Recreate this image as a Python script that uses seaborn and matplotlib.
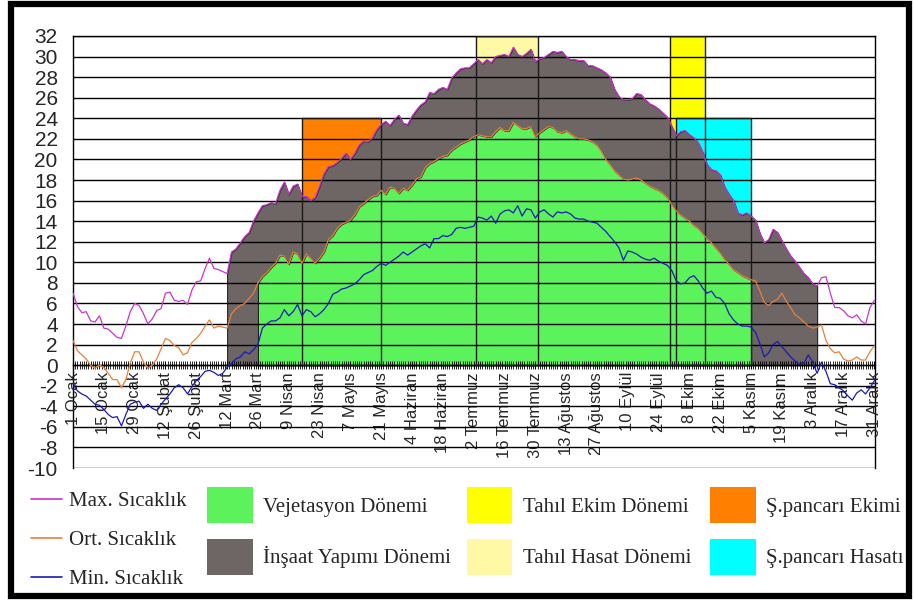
import matplotlib
matplotlib.use("Agg")
import matplotlib.pyplot as plt
from matplotlib.lines import Line2D
from matplotlib.patches import Patch, Rectangle
import seaborn as sns
import pandas as pd

# gün numarası (her iki günde bir okunan değerler)
days = list(range(1, 366, 2))

max_temp = [
    7.0, 5.7, 5.1, 5.2, 4.3, 4.2, 4.8, 3.6, 3.5, 3.1,
    2.7, 2.6, 3.8, 5.2, 6.0, 5.8, 5.0, 4.0, 4.5, 5.3,
    5.5, 7.0, 7.1, 6.3, 6.2, 6.3, 5.9, 7.3, 8.1, 8.2,
    9.4, 10.4, 9.4, 9.3, 9.1, 8.9,
    11.0, 11.3, 11.9, 12.5, 12.9, 14.0, 14.8, 15.5, 15.6, 15.8,
    15.7, 17.0, 17.8, 16.6, 17.4, 17.6, 16.4, 16.4, 16.0, 16.3,
    17.4, 18.6, 19.3, 19.4, 19.7, 20.1, 20.6, 20.0, 20.6, 21.4,
    21.8, 21.7, 22.1, 22.9, 23.4, 23.7, 23.3, 23.9, 24.3, 23.5,
    23.4, 24.2, 24.8, 25.3,
    25.6, 26.5, 26.4, 26.8, 27.0, 26.8, 27.9, 28.4, 28.8, 28.9,
    28.9, 29.3, 29.7, 29.3, 29.7, 29.4, 30.0, 30.1, 30.2, 30.0,
    30.9, 30.2, 30.0, 30.3, 30.7, 29.5, 29.8, 29.9, 30.2, 30.5,
    30.4, 30.5, 30.0, 29.7, 29.7, 29.6, 29.6, 29.1, 29.1, 28.9,
    28.7, 28.4,
    28.0, 26.8, 26.1, 25.8, 25.8, 25.9, 26.4, 26.3, 25.8, 25.4,
    25.2, 24.9, 24.5, 24.1, 23.2, 22.3, 22.7, 22.8, 22.4, 22.1,
    21.6, 20.7, 19.5, 19.0, 18.9, 18.5, 17.3, 16.6, 16.0, 14.8,
    14.6, 14.8, 14.5, 14.1, 12.8, 11.9, 12.2, 13.2, 12.9, 12.1,
    11.3, 10.6, 10.1, 9.5, 8.9, 8.5, 7.9, 7.7, 8.5, 8.6,
    7.0, 5.6, 5.6, 5.3, 4.8, 4.6, 4.9, 4.3, 4.0, 5.6,
    6.3,
]

ort_temp = [
    2.4, 1.4, 1.0, 0.6, 0.0, -0.3, 0.0, -0.2, -0.8, -1.4,
    -1.4, -2.2, -1.4, 0.2, 1.3, 1.3, 0.3, -0.3, 0.0, 0.6,
    1.6, 2.6, 2.4, 1.9, 1.7, 1.0, 1.2, 2.2, 2.6, 3.1,
    3.8, 4.4, 3.6, 3.8, 3.7, 3.6,
    5.0, 5.5, 5.8, 6.0, 6.5, 7.0, 8.0, 8.6, 9.0, 9.5,
    9.9, 10.7, 10.6, 9.8, 11.0, 10.8, 9.9, 10.8, 10.4, 9.9,
    10.4, 11.0, 12.2, 12.6, 13.3, 13.7, 13.9, 14.1, 14.6, 15.4,
    15.7, 16.1, 16.4, 16.5, 17.0, 16.6, 17.3, 17.2, 16.7, 17.2,
    17.0, 17.5, 18.1, 18.3,
    19.2, 19.6, 19.8, 20.1, 20.3, 20.4, 20.9, 21.2, 21.5, 21.7,
    21.9, 22.2, 22.4, 22.3, 22.2, 22.2, 22.7, 23.1, 22.8, 22.8,
    23.6, 23.3, 23.0, 23.0, 23.2, 22.2, 22.6, 22.9, 23.2, 23.1,
    22.7, 22.6, 22.8, 22.5, 22.2, 22.0, 22.0, 21.9, 21.7, 21.4,
    20.8, 20.0,
    19.5, 18.9, 18.5, 18.1, 18.0, 18.1, 18.2, 18.0, 17.7, 17.4,
    17.2, 17.0, 16.7, 16.3, 15.6, 15.0, 14.6, 14.3, 14.0, 13.6,
    13.3, 12.8, 12.3, 11.9, 11.4, 10.9, 10.3, 9.8, 9.3, 9.0,
    8.7, 8.5, 8.3, 8.2, 7.2, 6.1, 5.8, 6.2, 6.4, 7.0,
    6.2, 5.6, 4.9, 4.6, 4.2, 3.8, 3.6, 3.7, 3.9, 2.4,
    1.6, 1.2, 1.3, 0.6, 0.4, 0.5, 0.8, 0.5, 0.5, 1.3,
    1.9,
]

min_temp = [
    -1.8, -2.5, -2.8, -3.0, -3.4, -3.8, -3.9, -4.3, -4.8, -5.1,
    -5.0, -5.9, -4.8, -3.8, -3.6, -3.5, -4.2, -3.8, -4.2, -4.4,
    -3.8, -3.3, -2.8, -2.2, -1.9, -2.2, -2.8, -2.1, -1.5, -1.1,
    -0.6, -0.5, -0.7, -1.0, -0.8, -0.2,
    0.2, 0.6, 0.8, 1.3, 1.1, 1.5, 2.0, 3.6, 4.0, 4.3,
    4.3, 4.6, 5.4, 4.8, 5.2, 5.9, 4.8, 5.4, 5.2, 4.7,
    5.0, 5.4, 6.0, 6.9, 7.1, 7.4, 7.5, 7.7, 7.9, 8.3,
    8.8, 9.0, 9.2, 9.6, 9.9, 9.7, 10.0, 10.3, 10.6, 11.0,
    10.7, 11.0, 11.3, 11.6,
    11.8, 11.4, 12.3, 12.3, 12.6, 12.5, 12.7, 13.3, 13.4, 13.3,
    13.4, 13.5, 14.4, 14.3, 14.1, 14.5, 13.8, 14.7, 15.0, 15.1,
    14.8, 15.5, 14.5, 15.2, 15.1, 14.3, 14.9, 15.1, 14.7, 14.4,
    14.9, 14.8, 14.9, 14.7, 14.3, 14.2, 14.2, 14.0, 13.9, 13.8,
    13.4, 13.0,
    12.5, 12.0, 11.4, 10.2, 11.1, 11.0, 10.8, 10.5, 10.3, 10.2,
    10.4, 10.1, 9.9, 9.7, 9.2, 8.2, 7.9, 8.0, 8.5, 8.7,
    8.2, 7.5, 7.0, 7.2, 6.6, 6.5, 6.0, 5.0, 4.4, 4.0,
    3.8, 3.8, 3.7, 3.2, 2.1, 0.8, 1.2, 2.0, 2.3, 1.8,
    1.3, 0.8, 0.4, 0.1, 0.2, 1.0, 0.3, -0.8, 0.3, -0.6,
    -1.8, -1.9, -2.2, -2.5, -3.0, -3.4, -2.7, -2.4, -2.8, -2.2,
    -1.5,
]

tick_days = [1, 15, 29, 43, 57, 71, 85, 99, 113, 127, 141, 155, 169, 183,
             197, 211, 225, 239, 253, 267, 281, 295, 309, 323, 337, 351, 365]
tick_labels = ["1 Ocak", "15 Ocak", "29 Ocak", "12 Şubat", "26 Şubat",
               "12 Mart", "26 Mart", "9 Nisan", "23 Nisan", "7 Mayıs",
               "21 Mayıs", "4 Haziran", "18 Haziran", "2 Temmuz", "16 Temmuz",
               "30 Temmuz", "13 Ağustos", "27 Ağustos", "10 Eylül", "24 Eylül",
               "8 Ekim", "22 Ekim", "5 Kasım", "19 Kasım", "3 Aralık",
               "17 Aralık", "31 Aralık"]

series_names = ["Max. Sıcaklık", "Ort. Sıcaklık", "Min. Sıcaklık"]
series_colors = ["#CC33CC", "#E8803A", "#1A1AB8"]

# dönemler: ad, başlangıç günü, bitiş günü, üst sınır
veg_period = ("Vejetasyon Dönemi", 85, 309)
insaat_period = ("İnşaat Yapımı Dönemi", 71, 339)
box_names = ["Ş.pancarı Ekimi", "Tahıl Hasat Dönemi", "Tahıl Ekim Dönemi", "Ş.pancarı Hasatı"]
box_start = [105, 184, 272, 275]
box_end = [141, 212, 288, 309]
box_top = [24, 32, 32, 24]

colors = {
    "Vejetasyon Dönemi": "#5BF25B",
    "İnşaat Yapımı Dönemi": "#6D6665",
    "Tahıl Ekim Dönemi": "#FFFF00",
    "Tahıl Hasat Dönemi": "#FFF9A6",
    "Ş.pancarı Ekimi": "#FF7F00",
    "Ş.pancarı Hasatı": "#00FFFF",
}

df = pd.DataFrame({"gun": days, series_names[0]: max_temp,
                   series_names[1]: ort_temp, series_names[2]: min_temp})

sns.set_style("white")
plt.rcParams["font.family"] = ["Liberation Sans", "DejaVu Sans"]
plt.rcParams["axes.unicode_minus"] = False

fig = plt.figure(figsize=(9.15, 6.05), dpi=100)
ax = fig.add_axes([0.0798, 0.2264, 0.8765, 0.7141])

# tarımsal dönem kutuları
box_w = [e - s for s, e in zip(box_start, box_end)]
box_c = [colors[n] for n in box_names]
ax.bar(box_start, box_top, width=box_w, bottom=0, align="edge",
       color=box_c, edgecolor="none", zorder=0.8)
ax.bar(box_start, box_top, width=box_w, bottom=0, align="edge",
       facecolor="none", edgecolor="#1a1a1a", linewidth=1, zorder=2.7)

# inşaat dönemi: maksimum sıcaklığın altı
ins = df[(df.gun >= insaat_period[1]) & (df.gun <= insaat_period[2])]
ax.fill_between(ins.gun, 0, ins[series_names[0]], facecolor=colors[insaat_period[0]],
                edgecolor="#222222", linewidth=0.8, zorder=1.2)
# vejetasyon dönemi: ortalama sıcaklığın altı
veg = df[(df.gun >= veg_period[1]) & (df.gun <= veg_period[2])]
ax.fill_between(veg.gun, 0, veg[series_names[1]], facecolor=colors[veg_period[0]],
                edgecolor="#222222", linewidth=0.8, zorder=1.6)

for name, c in zip(series_names, series_colors):
    sns.lineplot(data=df, x="gun", y=name, color=c, linewidth=0.9,
                 estimator=None, ax=ax, zorder=3)

ax.set_xlim(1, 365.3)
ax.set_ylim(-10, 32)
ax.set_yticks(range(-10, 33, 2))
ax.set_xticks(tick_days)
ax.set_xticklabels(tick_labels)
ax.set_xticks(range(1, 366), minor=True)
ax.set_xlabel("")
ax.set_ylabel("")

ax.set_axisbelow(False)
ax.grid(axis="y", color="black", linewidth=1)
ax.grid(axis="x", visible=False)

ax.spines["bottom"].set_position(("data", 0))
for s in ["bottom", "left", "right", "top"]:
    ax.spines[s].set_color("black")
    ax.spines[s].set_linewidth(1)
ax.tick_params(axis="y", labelsize=15, length=7, width=1, direction="out",
               color="black", pad=4)
ax.tick_params(axis="x", which="major", length=6, width=0.8, direction="inout",
               color="black", pad=2, bottom=True, labelsize=12, labelrotation=90)
ax.tick_params(axis="x", which="minor", length=6, width=0.6, direction="inout",
               color="black", bottom=True)
for lab in ax.get_xticklabels():
    lab.set_verticalalignment("top")
    lab.set_horizontalalignment("center")

# lejant
leg_font = {"family": ["Liberation Serif", "DejaVu Serif"], "size": 15}
line_handles = [Line2D([], [], color=c, linewidth=1.2) for c in series_colors]
fig.legend(line_handles, series_names, loc="upper left", bbox_to_anchor=(0.034, 0.187),
           frameon=False, prop=leg_font, handlelength=1.5, handletextpad=0.3,
           labelspacing=0.93, borderpad=0, borderaxespad=0)

legend_cols = [
    (["Vejetasyon Dönemi", "İnşaat Yapımı Dönemi"], 0.226),
    (["Tahıl Ekim Dönemi", "Tahıl Hasat Dönemi"], 0.510),
    (["Ş.pancarı Ekimi", "Ş.pancarı Hasatı"], 0.776),
]
for names, xpos in legend_cols:
    handles = [Patch(facecolor=colors[n], edgecolor="none") for n in names]
    fig.legend(handles, names, loc="upper left", bbox_to_anchor=(xpos, 0.195),
               frameon=False, prop=leg_font, handlelength=2.2, handleheight=2.3,
               handletextpad=0.5, labelspacing=0.75, borderpad=0, borderaxespad=0)

fig.patches.append(Rectangle((0.012, 0.0157), 0.9814, 0.9769, transform=fig.transFigure,
                             facecolor="none", edgecolor="black", linewidth=4.5))

fig.savefig("out.png", dpi=100)
